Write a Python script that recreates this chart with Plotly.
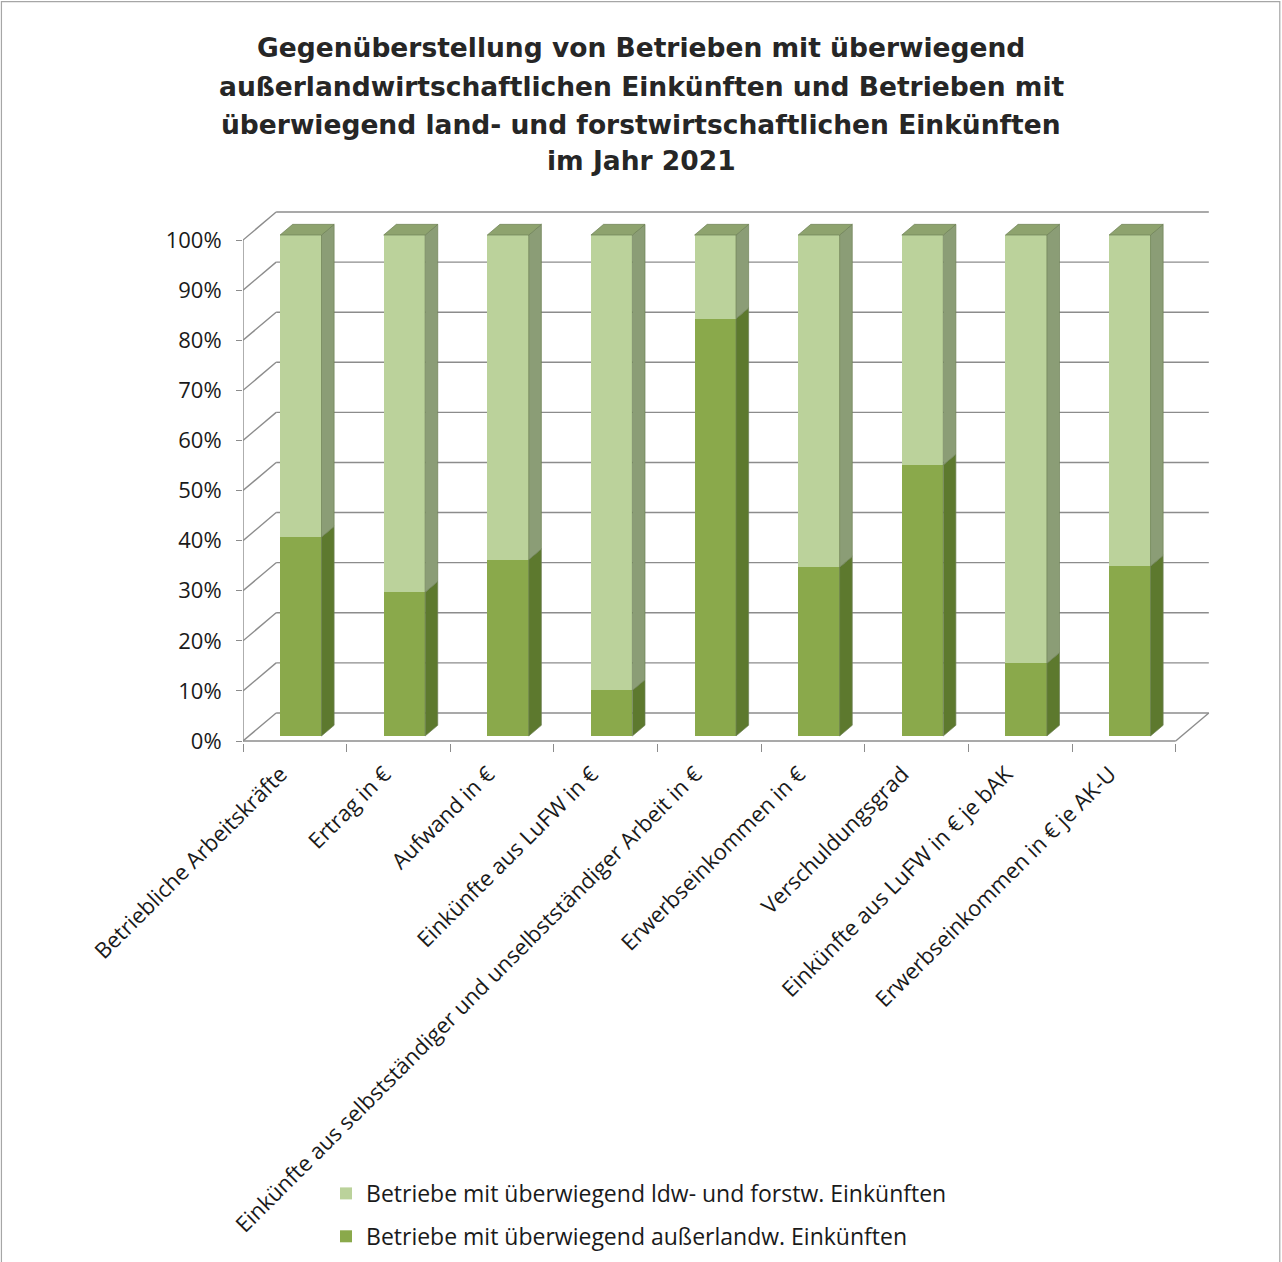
import plotly.graph_objects as go

# ---------------- data ----------------
categories = [
    "Betriebliche Arbeitskräfte",
    "Ertrag in €",
    "Aufwand in €",
    "Einkünfte aus LuFW in €",
    "Einkünfte aus selbstständiger und unselbstständiger Arbeit in €",
    "Erwerbseinkommen in €",
    "Verschuldungsgrad",
    "Einkünfte aus LuFW in € je bAK",
    "Erwerbseinkommen in € je AK-U",
]
share_ausser = [39.7, 28.7, 35.2, 9.1, 83.3, 33.7, 54.1, 14.5, 33.9]
share_ldw = [60.3, 71.3, 64.8, 90.9, 16.7, 66.3, 45.9, 85.5, 66.1]
series_names = [
    "Betriebe mit überwiegend außerlandw. Einkünften",
    "Betriebe mit überwiegend ldw- und forstw. Einkünften",
]
y_ticks = [0, 10, 20, 30, 40, 50, 60, 70, 80, 90, 100]
y_ticktext = [f"{v}%" for v in y_ticks]
title_lines = [
    "Gegenüberstellung von Betrieben mit überwiegend",
    "außerlandwirtschaftlichen Einkünften und Betrieben mit",
    "überwiegend land- und forstwirtschaftlichen Einkünften",
    "im Jahr 2021",
]

# ---------------- style / geometry ----------------
W, H = 1282, 1262
DX, DY = 0.32, 5.6          # depth of the 3D box (x units, y units)
F1 = 0.18                   # bar front depth fraction
BD = 0.38                   # bar depth fraction
BW = 0.4                    # bar width
PXX = 103.6                 # px per x unit
PXY = 5.01                  # px per y unit
X0PX = 243                  # pixel of x=-0.5
Y0PX = 741                  # pixel of y=0
xmin, xmax = -0.5, 8.5 + DX + 0.05
ymin, ymax = -0.4, 106.0

plot_l = X0PX
plot_r = X0PX + (xmax - xmin) * PXX
plot_t = Y0PX - ymax * PXY
plot_b = Y0PX - ymin * PXY
pw, ph = plot_r - plot_l, plot_b - plot_t


def px_x(px):
    return (px - plot_l) / pw


def px_y(py):
    return (plot_b - py) / ph


C_DARK = "#8aa94b"
C_LIGHT = "#bbd29b"
C_DARK_SIDE = "#5d792e"
C_LIGHT_SIDE = "#8b9d76"
C_TOP = "#8ea36e"
C_EDGE = "#6f8156"
GRID = "#8c8c8c"
TITLE_FONT = "DejaVu Sans"
FONT = "Open Sans"

fig = go.Figure()

n = len(categories)
xs = [i + F1 * DX for i in range(n)]
base0 = F1 * DY

# front faces
fig.add_trace(go.Bar(
    x=xs, y=share_ausser, base=[base0] * n, width=BW,
    marker=dict(color=C_DARK, line=dict(width=0)),
    name=series_names[0], legendgroup="a", legendrank=2, hoverinfo="skip",
))
fig.add_trace(go.Bar(
    x=xs, y=share_ldw, base=[base0 + d for d in share_ausser], width=BW,
    marker=dict(color=C_LIGHT, line=dict(width=0)),
    name=series_names[1], legendgroup="b", legendrank=1, hoverinfo="skip",
))

# side and top faces
def side_poly(xr, yb, yt):
    return ([xr, xr + BD * DX, xr + BD * DX, xr, xr, None],
            [yb, yb + BD * DY, yt + BD * DY, yt, yb, None])

sd_x, sd_y, sl_x, sl_y, tp_x, tp_y = [], [], [], [], [], []
for i in range(n):
    xr = xs[i] + BW / 2
    xl = xs[i] - BW / 2
    yb = base0
    ym = base0 + share_ausser[i]
    yt = ym + share_ldw[i]
    px_, py_ = side_poly(xr, yb, ym)
    sd_x += px_; sd_y += py_
    px_, py_ = side_poly(xr, ym, yt)
    sl_x += px_; sl_y += py_
    tp_x += [xl, xr, xr + BD * DX, xl + BD * DX, xl, None]
    tp_y += [yt, yt, yt + BD * DY, yt + BD * DY, yt, None]

for px_, py_, col in [(sd_x, sd_y, C_DARK_SIDE), (sl_x, sl_y, C_LIGHT_SIDE), (tp_x, tp_y, C_TOP)]:
    fig.add_trace(go.Scatter(
        x=px_, y=py_, mode="lines", fill="toself", fillcolor=col,
        line=dict(color=C_EDGE, width=0.7), showlegend=False, hoverinfo="skip",
    ))

# ---------------- walls, grid, axes as shapes ----------------
shapes = []
lw = 1.4
for v in y_ticks:
    shapes.append(dict(type="line", xref="x", yref="y", x0=-0.5 + DX, x1=8.5 + DX,
                       y0=v + DY, y1=v + DY, line=dict(color=GRID, width=lw), layer="below"))
    shapes.append(dict(type="line", xref="x", yref="y", x0=-0.5, x1=-0.5 + DX,
                       y0=v, y1=v + DY, line=dict(color=GRID, width=lw), layer="below"))
shapes.append(dict(type="line", xref="x", yref="y", x0=-0.5, x1=-0.5, y0=0, y1=100,
                   line=dict(color=GRID, width=lw), layer="below"))
shapes.append(dict(type="line", xref="x", yref="y", x0=-0.5, x1=8.5, y0=0, y1=0,
                   line=dict(color=GRID, width=lw), layer="below"))
shapes.append(dict(type="line", xref="x", yref="y", x0=8.5, x1=8.5 + DX, y0=0, y1=DY,
                   line=dict(color=GRID, width=lw), layer="below"))
# chart border
shapes.append(dict(type="rect", xref="paper", yref="paper",
                   x0=px_x(1.5), x1=px_x(W - 2.5), y0=px_y(H + 10), y1=px_y(1.5),
                   line=dict(color="#a6a6a6", width=1.2), layer="below"))

annotations = []
for line, py in zip(title_lines, [47, 86, 124, 160]):
    annotations.append(dict(
        text=f"<b>{line}</b>", xref="paper", yref="paper", x=px_x(641), y=px_y(py),
        xanchor="center", yanchor="middle", showarrow=False,
        font=dict(family=TITLE_FONT, size=26.5, color="#262626"),
    ))

fig.update_layout(
    width=W, height=H,
    margin=dict(l=plot_l, r=W - plot_r, t=plot_t, b=H - plot_b, autoexpand=False),
    paper_bgcolor="white", plot_bgcolor="rgba(0,0,0,0)",
    barmode="overlay", bargap=0,
    shapes=shapes, annotations=annotations,
    showlegend=True,
    legend=dict(
        x=px_x(326), y=px_y(1172), xanchor="left", yanchor="top",
        traceorder="grouped", tracegroupgap=10,
        font=dict(family=FONT, size=23, color="#1a1a1a"),
        bgcolor="rgba(0,0,0,0)", itemwidth=30,
    ),
    xaxis=dict(
        range=[xmin, xmax], tickmode="array", tickvals=list(range(n)), ticktext=categories,
        tickangle=-45, ticks="", showgrid=False, zeroline=False, showline=False,
        tickfont=dict(family=FONT, size=22, color="#1a1a1a"),
        ticklabelstandoff=13, ticklabelshift=-14,
        minor=dict(tickmode="array", tickvals=[i - 0.5 for i in range(n + 1)],
                   ticks="outside", ticklen=8, tickcolor=GRID, tickwidth=1.4, showgrid=False),
    ),
    yaxis=dict(
        range=[ymin, ymax], tickmode="array", tickvals=y_ticks, ticktext=y_ticktext,
        ticks="outside", ticklen=6, tickcolor=GRID, tickwidth=1.4,
        showgrid=False, zeroline=False, showline=False, ticklabelstandoff=10,
        tickfont=dict(family=FONT, size=22, color="#1a1a1a"),
    ),
    font=dict(family=FONT),
)

fig.write_html("out.html")
